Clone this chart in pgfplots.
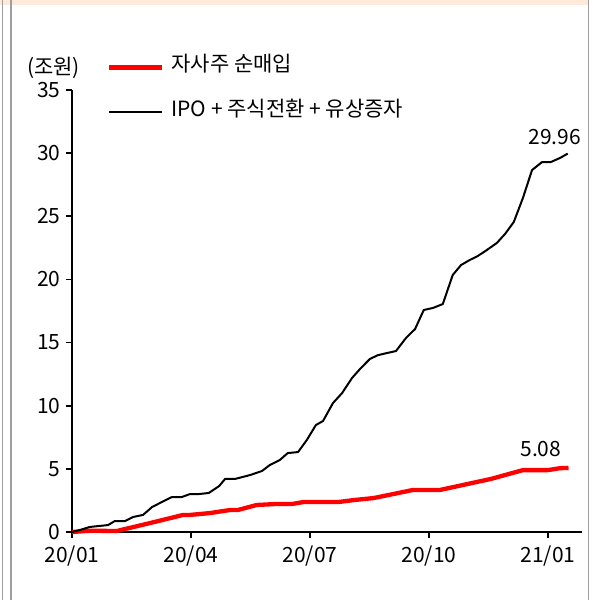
\documentclass[border=0pt]{standalone}
\usepackage{pgfplots}
\pgfplotsset{compat=1.18}
\usepackage{fontspec}
\setmainfont{Noto Sans CJK KR}
\definecolor{peach}{HTML}{FDEADA}
\begin{document}
\begin{tikzpicture}[x=1pt,y=1pt]
\path[use as bounding box] (0,0) rectangle (601,600);
\fill[peach] (0,595) rectangle (588,600);
\draw[gray!75, line width=1.3pt] (2.7,0) -- (2.7,600);
\draw[gray!75, line width=1.3pt] (11,0) -- (11,600);
\draw[gray!75, line width=1.3pt] (588.5,0) -- (588.5,600);
\begin{axis}[
  at={(72pt,68pt)}, anchor=south west,
  width=510pt, height=442pt, scale only axis,
  xmin=0, xmax=12.86, ymin=0, ymax=35,
  axis x line=bottom, axis y line=left,
  axis line style={-, line width=1.6pt, black},
  tick style={line width=1.6pt, black},
  tick align=outside, major tick length=6pt,
  xtick={0,3,6,9,12},
  xticklabels={20/01,20/04,20/07,20/10,21/01},
  ytick={0,5,10,15,20,25,30,35},
  /pgf/number format/assume math mode=true,
  ticklabel style={font=\fontsize{21}{25}\selectfont},
  xticklabel style={yshift=-4pt},
  yticklabel style={xshift=-2pt},
  clip=false,
  legend cell align=left,
  legend style={at={(axis description cs:0.0686,1.073)}, anchor=north west,
    draw=none, fill=none, inner sep=0pt, column sep=7pt, row sep=26pt,
    font=\fontsize{21}{25}\selectfont,
    nodes={inner sep=0pt, text height=14pt, text depth=5pt}},
  legend image code/.code={\draw[#1] (0pt,0pt) -- (53pt,0pt);},
]
\addplot[red, line width=4.3pt, line join=round] coordinates {
(0,0) (0.45,0.1) (1.13,0.08) (1.97,0.71) (2.80,1.35) (2.97,1.35) (3.48,1.5)
(3.98,1.74) (4.18,1.74) (4.66,2.14) (5.17,2.22) (5.55,2.22) (5.85,2.38)
(6.73,2.38) (7.11,2.53) (7.61,2.69) (8.09,3.0) (8.60,3.33) (9.28,3.33)
(10.56,4.2) (11.37,4.9) (12.0,4.9) (12.30,5.05) (12.52,5.08)
};
\addlegendentry{자사주 순매입}
\addplot[black, line width=2pt, line join=round] coordinates {
(0,0) (0.20,0.16) (0.45,0.40) (0.91,0.55) (1.08,0.87) (1.34,0.87) (1.54,1.19)
(1.79,1.35) (2.02,1.98) (2.27,2.38) (2.52,2.77) (2.77,2.77) (2.97,3.0)
(3.18,3.0) (3.45,3.09) (3.71,3.64) (3.86,4.2) (4.11,4.2) (4.49,4.51)
(4.79,4.83) (4.99,5.31) (5.24,5.70) (5.44,6.25) (5.70,6.33) (5.92,7.28)
(6.15,8.47) (6.33,8.79) (6.58,10.21) (6.81,11.0) (7.06,12.19) (7.26,12.9)
(7.51,13.7) (7.71,14.0) (7.94,14.17) (8.17,14.33) (8.42,15.36) (8.65,16.07)
(8.87,17.58) (9.10,17.74) (9.35,18.05) (9.60,20.35) (9.81,21.14) (10.03,21.54)
(10.23,21.85) (10.46,22.33) (10.71,22.88) (10.92,23.6) (11.14,24.55)
(11.37,26.45) (11.60,28.66) (11.85,29.29) (12.07,29.29) (12.30,29.61) (12.50,29.96)
};
\addlegendentry{IPO + 주식전환 + 유상증자}
\node[font=\fontsize{21}{25}\selectfont] at (axis cs:12.17,31.27) {29.96};
\node[font=\fontsize{21}{25}\selectfont] at (axis cs:11.82,6.57) {5.08};
\end{axis}
\node[font=\fontsize{21}{25}\selectfont] at (53.5,532) {(조원)};
\end{tikzpicture}
\end{document}
